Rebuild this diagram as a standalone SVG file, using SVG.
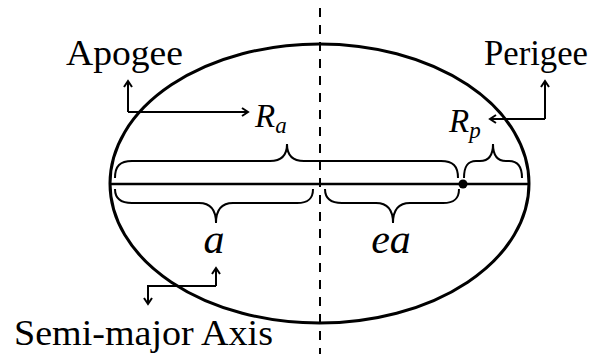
<svg xmlns="http://www.w3.org/2000/svg" width="603" height="354" viewBox="0 0 603 354">
<defs>
<style>
.it{font-style:italic}
.brace{fill:none;stroke:#000;stroke-width:2}
.arr{fill:none;stroke:#000;stroke-width:2}
</style>
<marker id="ah" markerWidth="10" markerHeight="10" refX="7" refY="5" orient="auto" markerUnits="userSpaceOnUse">
<path d="M1,1 L7,5 L1,9" fill="none" stroke="#000" stroke-width="2"/>
</marker>
</defs>
<rect width="603" height="354" fill="#fff"/>
<g id="ellipse">
<ellipse cx="319.5" cy="183.5" rx="209.5" ry="139.5" fill="none" stroke="#000" stroke-width="3"/>
</g>
<g id="axis">
<line x1="320" y1="8" x2="320" y2="354" stroke="#000" stroke-width="2" stroke-dasharray="9,8"/>
<line x1="110" y1="184" x2="529" y2="184" stroke="#000" stroke-width="2.5"/>
</g>
<g id="focus">
<circle cx="463" cy="184" r="4.5" fill="#000"/>
</g>
<g id="braces">
<path class="brace" d="M115,178 C115,166 120,161 132,161 L270,161 C282,161 287,155 287,144 C287,155 292,161 304,161 L441,161 C453,161 458,166 458,178"/>
<path class="brace" d="M464,178 C464,167 467,161 476,161 L480,161 C489,161 493,155 493,144 C493,155 497,161 506,161 L509,161 C518,161 522,167 522,178"/>
<path class="brace" d="M115,189 C115,198 120,203 132,203 L199,203 C211,203 216,210 216,223 C216,210 221,203 233,203 L297,203 C309,203 313,198 313,189"/>
<path class="brace" d="M325,189 C325,198 330,203 342,203 L376,203 C388,203 393,210 393,223 C393,210 398,203 410,203 L443,203 C455,203 459,198 459,189"/>
</g>
<g id="connectors">
<path class="arr" d="M128,112 L128,81" marker-end="url(#ah)"/>
<path class="arr" d="M128,112 L248,112" marker-end="url(#ah)"/>
<path class="arr" d="M545,119 L545,81" marker-end="url(#ah)"/>
<path class="arr" d="M545,119 L490,119" marker-end="url(#ah)"/>
<path class="arr" d="M216,286 L216,268" marker-end="url(#ah)"/>
<path class="arr" d="M216,286 L148,286 L148,304" marker-end="url(#ah)"/>
</g>
<g font-family="Liberation Serif, DejaVu Serif, serif" fill="#000">
<g id="apogee"><text x="66" y="65" font-size="36" textLength="117" lengthAdjust="spacingAndGlyphs">Apogee</text></g>
<g id="perigee"><text x="484" y="65" font-size="36" textLength="104" lengthAdjust="spacingAndGlyphs">Perigee</text></g>
<g id="semimajor"><text x="14" y="345" font-size="36" textLength="259" lengthAdjust="spacingAndGlyphs">Semi-major Axis</text></g>
<g id="Ra"><text class="it" x="255" y="127" font-size="33">R<tspan font-size="23" dy="6">a</tspan></text></g>
<g id="Rp"><text class="it" x="449" y="132" font-size="33">R<tspan font-size="23" dy="6">p</tspan></text></g>
<g id="a"><text class="it" x="214" y="253" font-size="42" text-anchor="middle">a</text></g>
<g id="ea"><text class="it" x="391" y="253" font-size="42" text-anchor="middle">ea</text></g>
</g>
</svg>
